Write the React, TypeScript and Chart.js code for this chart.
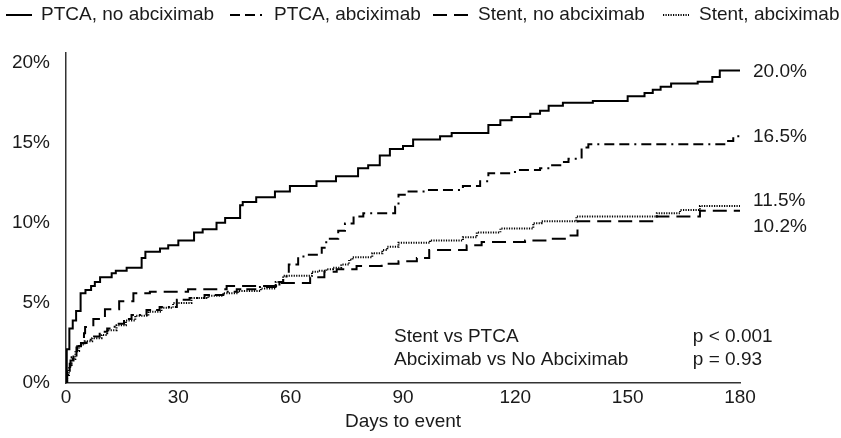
import React, { useEffect, useRef } from "react";
import { Chart, registerables } from "chart.js";

Chart.register(...registerables);

// ---------- data ----------
const seriesNames = ["PTCA, no abciximab", "PTCA, abciximab", "Stent, no abciximab", "Stent, abciximab"];

const ptcaNoDays = [0, 0.2, 0.9, 1.8, 2.7, 3.9, 5.2, 6.7, 7.7, 9.1, 12.2, 13.3, 16.2, 20.2, 21.2, 25.1, 27.3, 30.0, 34.2, 36.5, 40.2, 42.5, 46.5, 47.2, 50.8, 55.8, 59.8, 66.9, 72.1, 78.0, 80.7, 83.8, 86.5, 90.0, 92.7, 99.9, 103.0, 112.8, 116.0, 119.0, 124.0, 126.6, 128.9, 132.7, 140.7, 150.0, 154.5, 156.7, 158.8, 161.6, 168.7, 172.6, 174.6, 180];
const ptcaNoPct = [0, 2.1, 3.4, 3.9, 4.5, 5.6, 5.8, 6.05, 6.3, 6.6, 6.85, 7.0, 7.2, 7.8, 8.2, 8.4, 8.6, 8.9, 9.4, 9.6, 10.0, 10.3, 11.1, 11.3, 11.6, 11.95, 12.3, 12.6, 12.9, 13.4, 13.6, 14.2, 14.6, 14.8, 15.2, 15.4, 15.6, 16.1, 16.4, 16.6, 16.8, 17.0, 17.3, 17.5, 17.6, 17.9, 18.1, 18.3, 18.5, 18.7, 18.8, 19.1, 19.5, 19.5];

const ptcaAbDays = [0, 0.3, 1.0, 1.5, 2.8, 4.0, 5.5, 7.5, 9.0, 11.0, 13.0, 15.5, 17.5, 21.5, 25.0, 29.6, 33.0, 37.0, 42.0, 45.6, 51.8, 57.0, 58.0, 59.5, 62.0, 64.5, 68.3, 69.5, 72.7, 74.5, 76.8, 79.4, 87.9, 88.8, 91.0, 96.3, 106.0, 110.6, 112.8, 119.9, 126.6, 129.3, 132.0, 134.2, 137.7, 139.5, 176.5, 178.2, 180];
const ptcaAbPct = [0, 0.6, 1.2, 1.6, 2.3, 2.5, 2.7, 2.9, 3.2, 3.4, 3.7, 4.0, 4.25, 4.55, 4.75, 5.2, 5.3, 5.5, 5.7, 5.85, 6.0, 6.3, 6.65, 7.4, 7.9, 8.0, 8.45, 9.0, 9.5, 9.95, 10.4, 10.6, 11.0, 11.75, 11.95, 12.05, 12.3, 12.6, 13.1, 13.3, 13.4, 13.6, 13.8, 14.0, 14.7, 14.9, 15.1, 15.4, 15.5];

const stentNoDays = [0, 0.3, 1.2, 2.0, 3.0, 4.0, 4.8, 5.1, 7.3, 10.4, 14.2, 18.0, 22.4, 32.6, 42.9, 57.0, 65.2, 69.0, 72.3, 77.6, 84.3, 88.8, 93.7, 97.0, 107.0, 111.0, 122.6, 129.0, 134.2, 136.6, 157.8, 169.3, 180];
const stentNoPct = [0, 0.8, 1.4, 1.9, 2.3, 2.7, 3.1, 3.5, 4.0, 4.6, 5.1, 5.6, 5.7, 5.85, 6.05, 6.25, 6.6, 6.95, 7.1, 7.3, 7.45, 7.6, 7.8, 8.3, 8.6, 8.8, 8.9, 9.0, 9.2, 10.1, 10.4, 10.75, 10.75];

const stentAbDays = [0, 0.3, 0.8, 1.5, 2.5, 3.5, 5.0, 7.0, 9.5, 11.0, 13.5, 16.0, 18.5, 22.0, 25.5, 28.6, 33.5, 38.0, 42.0, 46.0, 52.0, 56.0, 58.0, 65.7, 67.5, 69.5, 71.3, 73.5, 75.6, 76.5, 81.8, 84.5, 85.8, 88.8, 97.2, 106.0, 109.7, 116.0, 124.8, 127.0, 136.3, 157.8, 164.0, 169.3, 180];
const stentAbPct = [0, 0.5, 1.0, 1.5, 2.0, 2.4, 2.6, 2.8, 3.0, 3.3, 3.6, 3.9, 4.2, 4.45, 4.7, 5.0, 5.3, 5.45, 5.6, 5.75, 5.9, 6.3, 6.7, 6.95, 7.0, 7.1, 7.2, 7.4, 7.7, 7.85, 8.1, 8.3, 8.5, 8.75, 8.9, 9.1, 9.4, 9.65, 9.98, 10.1, 10.4, 10.6, 10.8, 11.05, 11.05];

const endLabels = ["20.0%", "16.5%", "11.5%", "10.2%"];
const xTicks = [0, 30, 60, 90, 120, 150, 180];
const yTicks = [0, 5, 10, 15, 20];
const xTitle = "Days to event";
const statLabels = ["Stent vs PTCA", "Abciximab vs No Abciximab"];
const pValues = ["p < 0.001", "p = 0.93"];

// ---------- styling / layout ----------
const FONT = "'Liberation Sans', Arial, Helvetica, sans-serif";
const TEXT = "#1a1a1a";
const FONT_SIZE = 19;
const LEGEND_Y = 15;
const LEGEND_LAYOUT = [
  { line: [6, 32], text: 41 },
  { line: [230, 264], text: 274 },
  { line: [433, 469], text: 478 },
  { line: [663, 689], text: 699 },
];
const END_LABEL_AT = [19.45, 15.4, 11.4, 9.75];
const STAT_X_DAY = 87.6;
const P_X_DAY = 167.4;
const STAT_Y_PCT = [2.9, 1.45];

const styles = [
  { borderDash: [] as number[], borderWidth: 2 },
  { borderDash: [10, 5, 10, 5, 2, 5], borderWidth: 2 },
  { borderDash: [14, 7], borderWidth: 2 },
  { borderDash: [1.2, 1.3], borderWidth: 2 },
];

const toPoints = (d: number[], v: number[]) => d.map((x, i) => ({ x, y: v[i] }));

const annotationPlugin = {
  id: "kmAnnotations",
  afterDraw(chart: any) {
    const ctx = chart.ctx;
    const xs = chart.scales.x;
    const ys = chart.scales.y;
    ctx.save();
    ctx.font = `${FONT_SIZE}px ${FONT}`;
    ctx.fillStyle = TEXT;
    ctx.textBaseline = "middle";
    ctx.textAlign = "left";
    // legend
    chart.data.datasets.forEach((ds: any, i: number) => {
      const lay = LEGEND_LAYOUT[i];
      ctx.save();
      ctx.strokeStyle = ds.borderColor;
      ctx.lineWidth = ds.borderWidth;
      ctx.setLineDash(ds.borderDash || []);
      ctx.beginPath();
      ctx.moveTo(lay.line[0], LEGEND_Y);
      ctx.lineTo(lay.line[1], LEGEND_Y);
      ctx.stroke();
      ctx.restore();
      ctx.fillText(ds.label, lay.text, LEGEND_Y);
    });
    // end labels
    const endX = xs.getPixelForValue(180) + 13;
    endLabels.forEach((t, i) => {
      ctx.fillText(t, endX, ys.getPixelForValue(END_LABEL_AT[i]));
    });
    // stats
    statLabels.forEach((t, i) => {
      ctx.fillText(t, xs.getPixelForValue(STAT_X_DAY), ys.getPixelForValue(STAT_Y_PCT[i]));
      ctx.fillText(pValues[i], xs.getPixelForValue(P_X_DAY), ys.getPixelForValue(STAT_Y_PCT[i]));
    });
    ctx.restore();
  },
};

export default function App() {
  const ref = useRef<HTMLCanvasElement>(null);
  useEffect(() => {
    if (!ref.current) return;
    const series = [
      toPoints(ptcaNoDays, ptcaNoPct),
      toPoints(ptcaAbDays, ptcaAbPct),
      toPoints(stentNoDays, stentNoPct),
      toPoints(stentAbDays, stentAbPct),
    ];
    const font = { family: FONT, size: FONT_SIZE };
    const chart = new Chart(ref.current, {
      type: "line",
      data: {
        datasets: series.map((pts, i) => ({
          label: seriesNames[i],
          data: pts,
          stepped: true,
          borderColor: "#000",
          backgroundColor: "#000",
          borderWidth: styles[i].borderWidth,
          borderDash: styles[i].borderDash,
          pointRadius: 0,
          fill: false,
          tension: 0,
        })),
      },
      options: {
        animation: false,
        responsive: false,
        maintainAspectRatio: false,
        layout: { padding: { left: 0, right: 101, top: 53, bottom: 0 } },
        plugins: { legend: { display: false }, tooltip: { enabled: false } },
        scales: {
          x: {
            type: "linear",
            min: 0,
            max: 180,
            afterBuildTicks: (s: any) => {
              s.ticks = xTicks.map((v) => ({ value: v }));
            },
            afterFit: (s: any) => {
              s.height = 55;
            },
            ticks: { font, color: TEXT, padding: -5, maxRotation: 0, autoSkip: false },
            grid: { display: false },
            border: { display: true, color: "#333", width: 1.5 },
            title: { display: true, text: xTitle, font, color: TEXT, padding: { top: 0, bottom: 5 } },
          },
          y: {
            type: "linear",
            min: 0,
            max: 20.6,
            afterBuildTicks: (s: any) => {
              s.ticks = yTicks.map((v) => ({ value: v }));
            },
            afterFit: (s: any) => {
              s.width = 66;
            },
            ticks: { font, color: TEXT, padding: 8, callback: (v: any) => `${v}%` },
            grid: { display: false },
            border: { display: true, color: "#333", width: 1.5 },
          },
        },
      },
      plugins: [annotationPlugin],
    } as any);
    return () => chart.destroy();
  }, []);
  return (
    <div style={{ position: "absolute", left: 0, top: 0, width: 841, height: 438, background: "#fff" }}>
      <canvas ref={ref} width={841} height={438} style={{ display: "block" }} />
    </div>
  );
}
